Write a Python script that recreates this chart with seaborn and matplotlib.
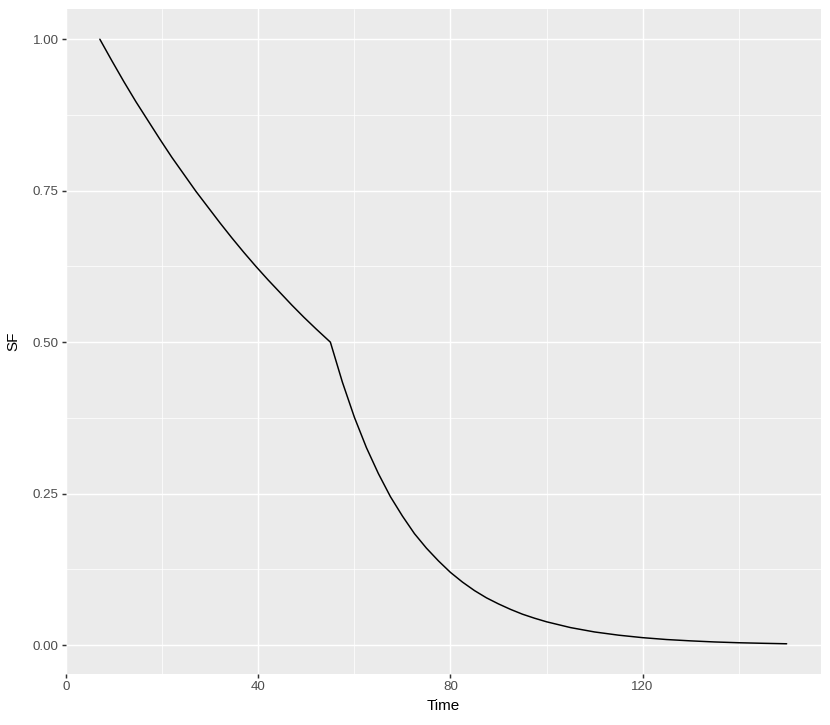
import matplotlib
matplotlib.use("Agg")
import matplotlib.pyplot as plt
import seaborn as sns
import pandas as pd
from matplotlib.ticker import FixedLocator

# Data
time = [7, 9.5, 12, 14.5, 17, 19.5, 22, 24.5, 27, 29.5, 32, 34.5, 37, 39.5,
        42, 44.5, 47, 49.5, 52, 55,
        57.5, 60, 62.5, 65, 67.5, 70, 72.5, 75, 77.5, 80, 82.5, 85, 87.5, 90,
        92.5, 95, 97.5, 100, 105, 110, 115, 120, 125, 130, 135, 140, 145, 150]
sf = [1.000, 0.9645, 0.930, 0.897, 0.866, 0.835, 0.805, 0.777, 0.749, 0.723, 0.697,
      0.672, 0.648, 0.625, 0.603, 0.582, 0.561, 0.541, 0.522, 0.500,
      0.434, 0.376, 0.326, 0.283, 0.245, 0.213, 0.184, 0.160, 0.139, 0.120, 0.104,
      0.090, 0.078, 0.068, 0.059, 0.051, 0.0444, 0.0385, 0.0289, 0.0217, 0.0164,
      0.0123, 0.0092, 0.0070, 0.0052, 0.0039, 0.0030, 0.0022]
x_ticks = [0, 40, 80, 120]
x_minor = [20, 60, 100, 140]
y_ticks = [0.00, 0.25, 0.50, 0.75, 1.00]
y_minor = [0.125, 0.375, 0.625, 0.875]
y_tick_labels = ["0.00", "0.25", "0.50", "0.75", "1.00"]

df = pd.DataFrame({"Time": time, "SF": sf})

sns.set_theme(style="darkgrid")
plt.rcParams["font.family"] = ["Liberation Sans", "DejaVu Sans"]

fig = plt.figure(figsize=(8.30, 7.25), dpi=100)
ax = fig.add_axes([65.5 / 830, 1 - 674 / 725, (821 - 65.5) / 830, (674 - 9) / 725])
ax.set_facecolor("#EBEBEB")

sns.lineplot(data=df, x="Time", y="SF", ax=ax, color="black", linewidth=1.07)

xr = max(time) - min(time)
ax.set_xlim(min(time) - 0.05 * xr, max(time) + 0.05 * xr)
yr = max(sf) - min(sf)
ax.set_ylim(min(sf) - 0.05 * yr, max(sf) + 0.05 * yr)

ax.xaxis.set_major_locator(FixedLocator(x_ticks))
ax.xaxis.set_minor_locator(FixedLocator(x_minor))
ax.yaxis.set_major_locator(FixedLocator(y_ticks))
ax.set_yticklabels(y_tick_labels)
ax.yaxis.set_minor_locator(FixedLocator(y_minor))

ax.grid(which="major", color="white", linewidth=1.07)
ax.grid(which="minor", color="white", linewidth=0.53)
ax.set_axisbelow(True)
for s in ax.spines.values():
    s.set_visible(False)

ax.tick_params(axis="both", which="major", length=2.75, width=1.07,
               color="#333333", labelcolor="#4D4D4D", labelsize=9.6, pad=2.2,
               bottom=True, left=True)
ax.tick_params(axis="both", which="minor", length=0, bottom=False, left=False)

ax.set_xlabel("Time", fontsize=11, color="black", labelpad=4.5)
ax.set_ylabel("SF", fontsize=11, color="black", labelpad=8.5)

fig.savefig("out.png", dpi=100)
